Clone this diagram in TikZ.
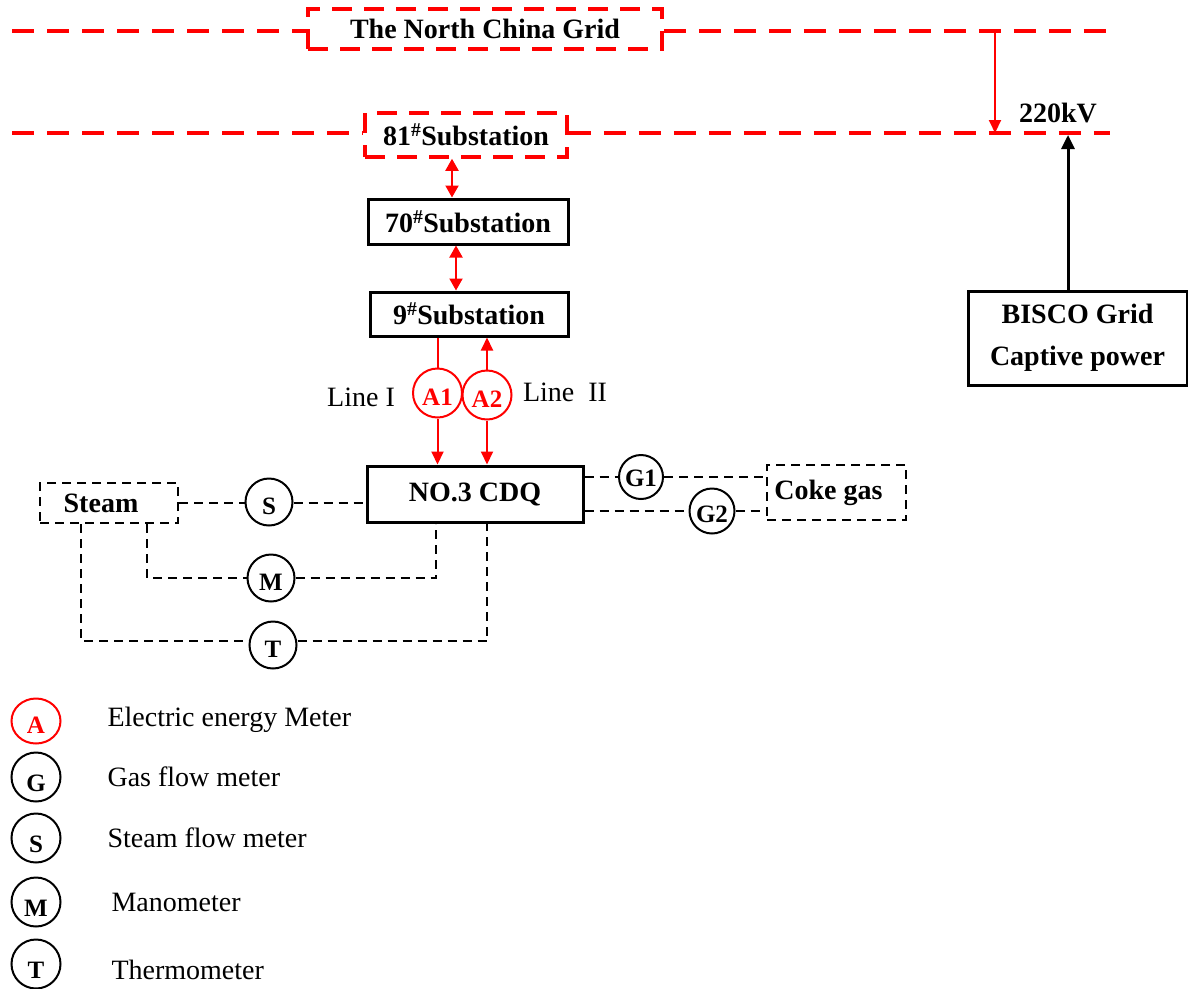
\documentclass[tikz,border=0pt]{standalone}
\usepackage{fontspec}
\setmainfont{Liberation Serif}
\usetikzlibrary{arrows.meta,shapes.geometric}
\newcommand{\mlow}[2]{\raisebox{-#1pt}[0pt][0pt]{#2}}
\begin{document}
\begin{tikzpicture}[x=1pt,y=-1pt,
  gridline/.style={red, line width=3.5pt, dash pattern=on 22pt off 13pt},
  gridbox/.style={draw=red, line width=3.5pt, dash pattern=on 20pt off 12pt, inner sep=0pt,
     font=\bfseries\fontsize{28}{32}\selectfont},
  sbox/.style={draw, line width=3pt, inner sep=0pt, font=\bfseries\fontsize{28}{32}\selectfont},
  dbox/.style={draw, line width=2pt, dash pattern=on 9pt off 6pt, inner sep=0pt,
     font=\bfseries\fontsize{28}{32}\selectfont},
  meter/.style={circle, draw, line width=2pt, minimum size=47pt, inner sep=0pt,
     font=\bfseries\fontsize{25}{25}\selectfont},
  emeter/.style={meter, draw=red, text=red, minimum size=49pt},
  redarrow/.style={red, line width=2pt, -{Triangle[length=13pt,width=12pt]}},
  reddouble/.style={red, line width=2pt, {Triangle[length=12pt,width=13pt]}-{Triangle[length=12pt,width=13pt]}},
  blackarrow/.style={black, line width=3pt, -{Triangle[length=14pt,width=13pt]}},
  dashconn/.style={line width=2pt, dash pattern=on 9pt off 6pt},
  plain/.style={font=\fontsize{28}{32}\selectfont},
  boldlbl/.style={font=\bfseries\fontsize{28}{32}\selectfont},
  lgtext/.style={anchor=west, font=\fontsize{28}{32}\selectfont}
]
\useasboundingbox (0,0) rectangle (1188,988);

% grid lines and boxes
\node[gridbox, minimum width=354pt, minimum height=40pt] (ncg) at (485,29) {\raisebox{-4pt}{The North China Grid}};
\node[gridbox, minimum width=202pt, minimum height=44pt] (s81) at (466,135) {\raisebox{-2pt}{81\textsuperscript{\#}Substation}};
\coordinate (g1L) at (12,31);
\coordinate (g1R) at (1118,31);
\coordinate (g2L) at (12,133);
\coordinate (g2R) at (1110,133);
\draw[gridline] (g1L) -- (ncg.west |- g1L);
\draw[gridline] (ncg.east |- g1R) -- (g1R);
\draw[gridline] (g2L) -- (s81.west |- g2L);
\draw[gridline] (s81.east |- g2R) -- (g2R);

\coordinate (t1) at (995,31);
\coordinate (t2) at (995,133);
\draw[redarrow] (t1) -- (t2);
\node[boldlbl] (kv) at (1058,113) {220kV};

\node[sbox, minimum width=219pt, minimum height=94pt, align=center, font=\bfseries\fontsize{28}{42}\selectfont] (bisco) at (1077.5,338) {BISCO Grid\\Captive power};
\coordinate (kvp) at (1068,135);
\draw[blackarrow] (bisco.north -| kvp) -- (kvp);

% substations
\node[sbox, minimum width=200pt, minimum height=45pt] (s70) at (468,221.5) {70\textsuperscript{\#}Substation};
\node[sbox, minimum width=198pt, minimum height=44pt] (s9) at (469,314) {9\textsuperscript{\#}Substation};
\coordinate (d1) at (452,0);
\coordinate (d2) at (456,0);
\draw[reddouble] (s81.south -| d1) -- (s70.north -| d1);
\draw[reddouble] (s70.south -| d2) -- (s9.north -| d2);

% CDQ and meters
\node[sbox, minimum width=216pt, minimum height=56pt] (cdq) at (475,494) {NO.3 CDQ};
\node[emeter] (a1) at (437.5,393) {\mlow{12}{A1}};
\node[emeter] (a2) at (487,395) {\mlow{12}{A2}};
\draw[red, line width=2pt] (s9.south -| a1) -- (a1.north);
\draw[redarrow] (a1.south) -- (cdq.north -| a1);
\draw[redarrow] (a2.north) -- (s9.south -| a2);
\draw[redarrow] (a2.south) -- (cdq.north -| a2);
\node[plain] (l1) at (361,397) {Line I};
\node[plain] (l2) at (565,392) {Line\ \ II};

% steam side
\node[dbox, minimum width=138pt, minimum height=40pt] (steam) at (109,503) {\hspace*{-16pt}\raisebox{-3pt}{Steam}};
\node[meter] (s) at (269,502) {\mlow{12}{S}};
\node[meter] (m) at (271,578) {\mlow{12}{M}};
\node[meter] (t) at (273,645) {\mlow{12}{T}};
\coordinate (sy) at (0,503);
\draw[dashconn] (steam.east |- sy) -- (s.west |- sy);
\draw[dashconn] (s.east |- sy) -- (cdq.west |- sy);
\coordinate (mL) at (147,578);
\coordinate (mR) at (436,578);
\coordinate (tL) at (81,641);
\coordinate (tR) at (487,641);
\draw[dashconn] (steam.south -| mL) -- (mL) -- (m.west);
\draw[dashconn] (m.east) -- (mR) -- (cdq.south -| mR);
\draw[dashconn] (steam.south -| tL) -- (tL) -- (t.west |- tL);
\draw[dashconn] (t.east |- tR) -- (tR) -- (cdq.south -| tR);

% coke gas side
\node[dbox, minimum width=139pt, minimum height=55pt] (coke) at (836.5,492.5) {\hspace*{-16pt}Coke gas};
\node[meter, minimum size=44pt] (g1) at (641,477) {\mlow{9}{G1}};
\node[meter, minimum size=45pt] (g2) at (712,511) {\mlow{11}{G2}};
\draw[dashconn] (cdq.east |- g1) -- (g1.west);
\draw[dashconn] (g1.east) -- (coke.west |- g1);
\coordinate (g2y) at (0,511);
\draw[dashconn] (cdq.east |- g2y) -- (g2.west |- g2y);
\draw[dashconn] (g2.east |- g2y) -- (coke.west |- g2y);

% legend
\node[ellipse, draw=red, text=red, line width=2pt, minimum width=49pt, minimum height=45pt, inner sep=0pt,
      font=\bfseries\fontsize{25}{25}\selectfont] (la) at (36,721) {\mlow{12}{A}};
\node[meter, minimum size=49pt] (lg) at (36,777) {\mlow{14}{G}};
\node[meter, minimum size=49pt] (ls) at (36,838) {\mlow{14}{S}};
\node[meter, minimum size=49pt] (lm) at (36,902) {\mlow{14}{M}};
\node[meter, minimum size=49pt] (lt) at (36,964) {\mlow{14}{T}};
\node[lgtext] (tla) at (104,720) {Electric energy Meter};
\node[lgtext] (tlg) at (104,777) {Gas flow meter};
\node[lgtext] (tls) at (104,838) {Steam flow meter};
\node[lgtext] (tlm) at (108,902) {Manometer};
\node[lgtext] (tlt) at (108,970) {Thermometer};
\end{tikzpicture}
\end{document}
